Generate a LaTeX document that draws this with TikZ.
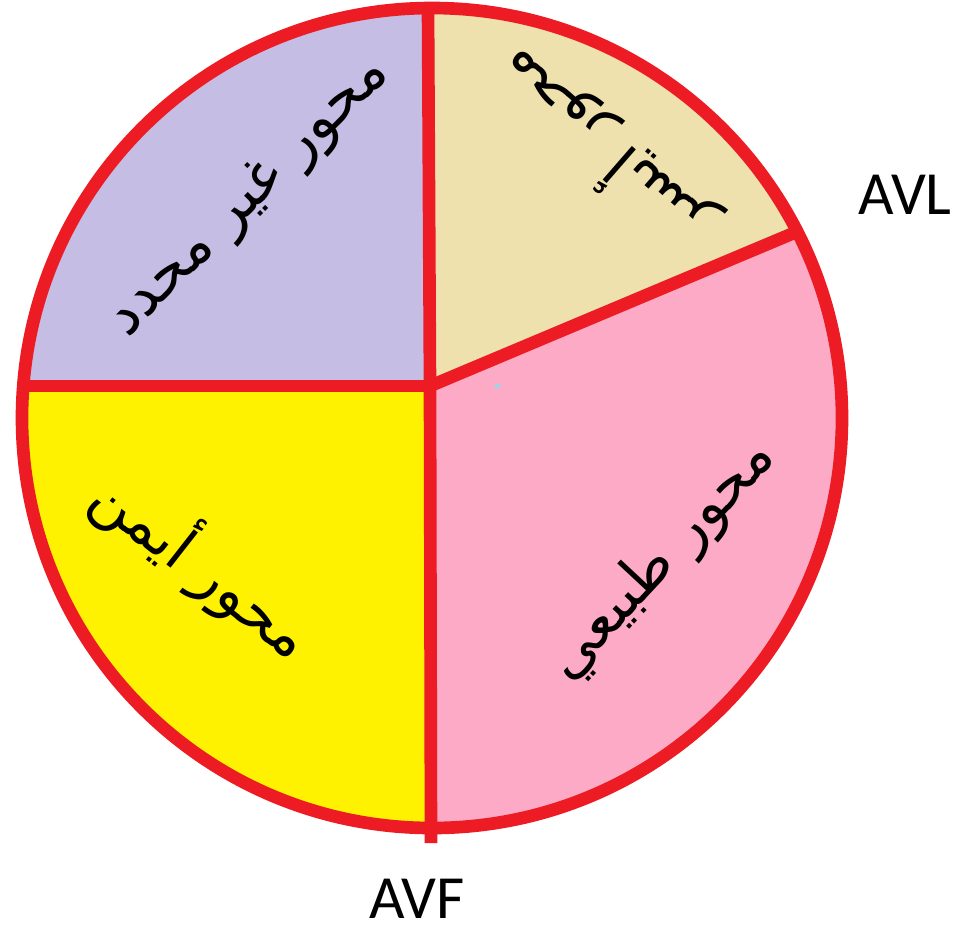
\documentclass[tikz,border=0pt]{standalone}
\usepackage{fontspec}
\newfontfamily\arabicfont[Script=Arabic]{DejaVu Sans}
\newfontfamily\latinfont{Carlito}
\TeXXeTstate=1
\definecolor{axred}{HTML}{ED1C24}
\definecolor{lav}{HTML}{C5BDE3}
\definecolor{beige}{HTML}{EEE1AE}
\definecolor{yel}{HTML}{FFF200}
\definecolor{pinkf}{HTML}{FDAAC6}
\definecolor{speck}{HTML}{9FD3E6}
\tikzset{
  axisline/.style={draw=axred, line width=9.5pt},
  rimline/.style={draw=axred, line width=9.5pt},
  artext/.style={font=\arabicfont\fontsize{44}{52}\selectfont, text=black, inner sep=0pt},
  leadtext/.style={font=\latinfont\fontsize{46}{54}\selectfont, text=black, inner sep=0pt}
}
\begin{document}
\begin{tikzpicture}[x=0.75pt,y=-0.75pt]
\useasboundingbox (0,0) rectangle (959,926);
\fill[white] (0,0) rectangle (959,926);
\coordinate (C) at (432,418);
\coordinate (J) at (430,386);
\coordinate (T) at (428,8);
\coordinate (B) at (431,843);
\coordinate (L) at (21,386);
\coordinate (D) at (801,230);
\begin{scope}
  \clip (C) circle[radius=410];
  \fill[lav] (0,0) -- (428,0) -- (J) -- (0,386) -- cycle;
  \fill[beige] (428,0) -- (1000,0) -- (1000,146) -- (J) -- cycle;
  \fill[pinkf] (J) -- (1000,146) -- (1000,900) -- (431,900) -- cycle;
  \fill[yel] (0,386) -- (J) -- (431,900) -- (0,900) -- cycle;
\end{scope}
\fill[speck] (495,384) rectangle (500,388);
\draw[rimline] (C) circle[radius=410];
\draw[axisline] (T) -- (J);
\draw[axisline] (J) -- (B);
\draw[axisline] (L) -- (J);
\draw[axisline] (J) -- (D);
\node[artext, rotate=45] (nondef) at (250,198) {\beginR محور غير محدد\endR};
\node[artext, rotate=139] (left) at (603,150) {\beginR محور أيسر\endR};
\node[artext, rotate=-38] (right) at (203,565) {\beginR محور أيمن\endR};
\node[artext, rotate=47] (normal) at (662,560) {\beginR محور طبيعي\endR};
\node[leadtext, anchor=base] (avl) at (905,214) {AVL};
\node[leadtext, anchor=base] (avf) at (417,918) {AVF};
\end{tikzpicture}
\end{document}
